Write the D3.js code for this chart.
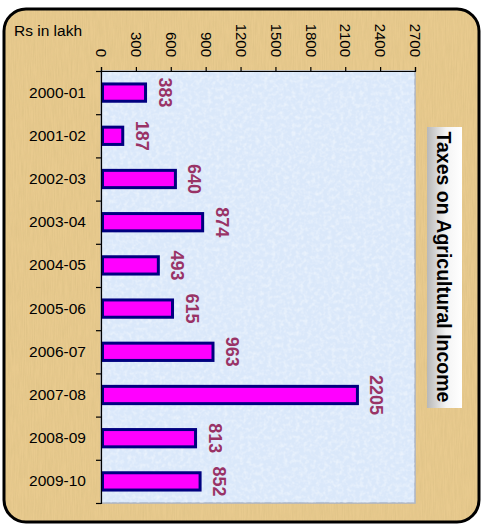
<!DOCTYPE html>
<html><head><meta charset="utf-8">
<script src="https://cdn.jsdelivr.net/npm/d3@7"></script>
<style>body{margin:0;background:#fff}svg{display:block}text{font-family:"Liberation Sans",Arial,Helvetica,sans-serif}</style>
</head><body>
<script>
const categories = ["2000-01","2001-02","2002-03","2003-04","2004-05","2005-06","2006-07","2007-08","2008-09","2009-10"];
const values = [383,187,640,874,493,615,963,2205,813,852];
const xTicks = [0,300,600,900,1200,1500,1800,2100,2400,2700];
const title = "Taxes on Agricultural Income";
const unitLabel = "Rs in lakh";

const W = 483, H = 526;
const svg = d3.select("body").append("svg").attr("width", W).attr("height", H);
const defs = svg.append("defs");

// textures
const fp = defs.append("filter").attr("id","papyrus").attr("x",0).attr("y",0).attr("width","100%").attr("height","100%");
fp.append("feTurbulence").attr("type","fractalNoise").attr("baseFrequency","0.9 0.05").attr("numOctaves",3).attr("seed",4).attr("result","n");
fp.append("feColorMatrix").attr("in","n").attr("type","matrix")
  .attr("values","0 0 0 0 0.62  0 0 0 0 0.47  0 0 0 0 0.2  0 0 0 -1.6 1.05");
const fb = defs.append("filter").attr("id","blueTex").attr("x",0).attr("y",0).attr("width","100%").attr("height","100%");
fb.append("feTurbulence").attr("type","fractalNoise").attr("baseFrequency","0.25").attr("numOctaves",2).attr("seed",7).attr("result","n");
fb.append("feColorMatrix").attr("in","n").attr("type","matrix")
  .attr("values","0 0 0 0 1  0 0 0 0 1  0 0 0 0 1  0 0 0 -2.0 1.2");

const grad = defs.append("linearGradient").attr("id","titleGrad").attr("x1","0").attr("x2","1").attr("y1","0").attr("y2","0");
grad.append("stop").attr("offset","0").attr("stop-color","#b8b8b8");
grad.append("stop").attr("offset","0.55").attr("stop-color","#f4f4f4");
grad.append("stop").attr("offset","1").attr("stop-color","#ffffff");

const clip = defs.append("clipPath").attr("id","outerClip");
clip.append("rect").attr("x",4).attr("y",9).attr("width",475).attr("height",513).attr("rx",22);

// outer frame
const frame = svg.append("g").attr("clip-path","url(#outerClip)");
frame.append("rect").attr("x",0).attr("y",0).attr("width",W).attr("height",H).attr("fill","#e8ca8e");
frame.append("rect").attr("x",0).attr("y",0).attr("width",W).attr("height",H).attr("filter","url(#papyrus)").attr("opacity",0.35);
svg.append("rect").attr("x",4).attr("y",9).attr("width",475).attr("height",513).attr("rx",22)
  .attr("fill","none").attr("stroke","#000").attr("stroke-width",3);

// plot area
const m = {left:101, top:71, right:415, bottom:503};
const x = d3.scaleLinear().domain([0,2700]).range([m.left, m.right]);
const y = d3.scaleBand().domain(categories).range([m.top, m.bottom]).paddingInner(0.6).paddingOuter(0.3);
const yB = d3.scaleLinear().domain([0, categories.length]).range([m.top, m.bottom]);

svg.append("rect").attr("x",m.left).attr("y",m.top).attr("width",m.right-m.left).attr("height",m.bottom-m.top)
  .attr("fill","#dae8fa").attr("stroke","#aab4c6").attr("stroke-width",1.5);
svg.append("rect").attr("x",m.left).attr("y",m.top).attr("width",m.right-m.left).attr("height",m.bottom-m.top)
  .attr("filter","url(#blueTex)").attr("opacity",0.45);

// bars
svg.append("g").selectAll("rect").data(values).join("rect")
  .attr("x", x(0) + 1.5)
  .attr("y", (d,i) => y(categories[i]))
  .attr("width", d => x(d) - x(0) - 1.5)
  .attr("height", y.bandwidth())
  .attr("fill","#ff00ff").attr("stroke","#000080").attr("stroke-width",3);

// value labels
svg.append("g").selectAll("text").data(values).join("text")
  .attr("transform", (d,i) => `translate(${x(d)+13},${y(categories[i]) + y.bandwidth()/2}) rotate(90)`)
  .attr("text-anchor","middle")
  .attr("font-size",18).attr("font-weight","bold").attr("fill","#993366")
  .text(d => d);

// top axis
const gx = svg.append("g").attr("transform",`translate(0,${m.top})`)
  .call(d3.axisTop(x).tickValues(xTicks).tickFormat(d3.format("d")).tickSize(4).tickSizeOuter(4));
gx.selectAll("text").attr("transform","rotate(90)").attr("x",-14).attr("y",0).attr("dy","0.35em")
  .attr("text-anchor","end").attr("font-size",15).attr("fill","#000");
gx.select(".domain").attr("stroke","#000").attr("stroke-width",1.2);
gx.selectAll(".tick line").attr("stroke","#000").attr("stroke-width",1.2);

// left axis boundary ticks
const gyb = svg.append("g").attr("transform",`translate(${m.left},0)`)
  .call(d3.axisLeft(yB).tickValues(d3.range(categories.length+1)).tickSize(5).tickFormat(""));
gyb.select(".domain").attr("stroke","#000").attr("stroke-width",1.2);
gyb.selectAll(".tick line").attr("stroke","#000").attr("stroke-width",1.2);

// left axis category labels
const gy = svg.append("g").attr("transform",`translate(${m.left},0)`)
  .call(d3.axisLeft(y).tickSize(0).tickPadding(15));
gy.select(".domain").remove();
gy.selectAll("text").attr("font-size",15.5).attr("fill","#000");

// unit label
svg.append("text").attr("x",14).attr("y",36).attr("font-size",15.5).attr("fill","#000").text(unitLabel);

// title box
svg.append("rect").attr("x",427).attr("y",127).attr("width",35).attr("height",281).attr("fill","url(#titleGrad)");
svg.append("text").attr("transform","translate(437,267) rotate(90)").attr("text-anchor","middle")
  .attr("font-size",19.5).attr("font-weight","bold").attr("fill","#000").text(title);
</script>
</body></html>
